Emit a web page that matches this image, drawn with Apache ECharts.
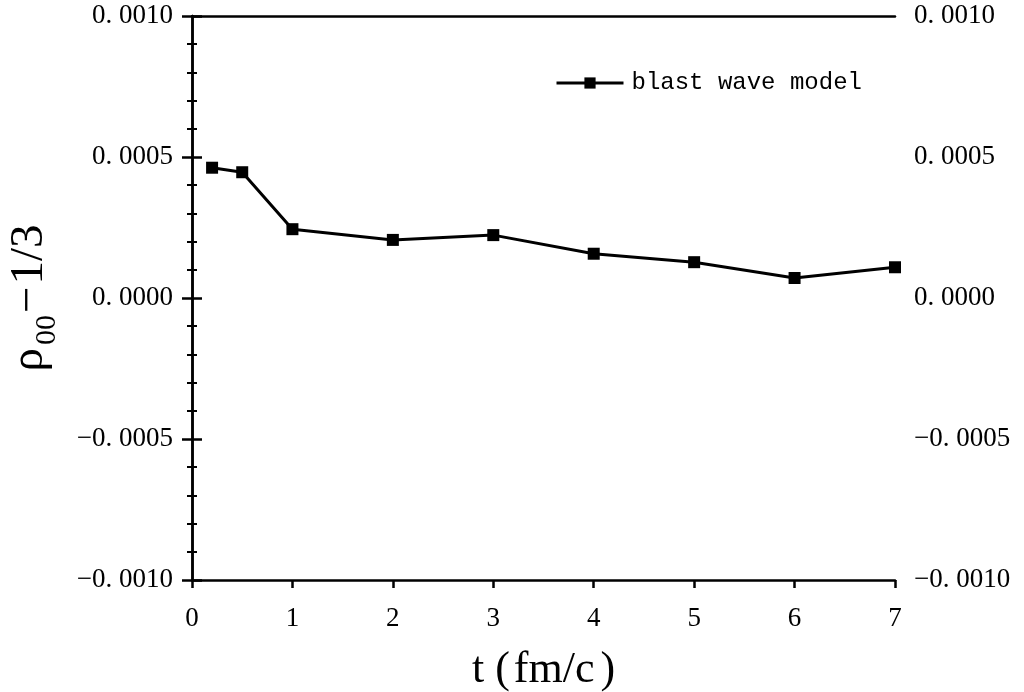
<!DOCTYPE html>
<html>
<head>
<meta charset="utf-8">
<script src="https://cdn.jsdelivr.net/npm/echarts@6/dist/echarts.min.js"></script>
<style>
  html, body { margin: 0; padding: 0; background: #fff; }
  #chart { width: 1024px; height: 692px; }
</style>
</head>
<body>
<div id="chart"></div>
<script>
  // t (fm/c) and rho00 - 1/3
  const tValues = [0.2, 0.5, 1, 2, 3, 4, 5, 6, 7];
  const rhoValues = [0.000462, 0.000446, 0.000244, 0.000206, 0.000223, 0.000157, 0.000127, 0.000071, 0.000109];
  const seriesName = "blast wave model";

  const serif = "Liberation Serif";
  // the original font draws a wide gap after the decimal point
  const fmt = (v) => (v < 0 ? "\u2212" : "") + Math.abs(v).toFixed(4).replace(".", ". ");

  const chart = echarts.init(document.getElementById("chart"));

  const yBase = {
    type: "value",
    min: -0.001,
    max: 0.001,
    interval: 0.0005,
    axisLine: { show: true, lineStyle: { color: "#000", width: 2.5 } },
    axisTick: { show: true, inside: false, length: 10, lineStyle: { color: "#000", width: 2.5 } },
    minorTick: { show: true, splitNumber: 5, length: 5, lineStyle: { color: "#000", width: 2 } },
    splitLine: { show: false },
    axisLabel: { color: "#000", fontFamily: serif, fontSize: 27, formatter: fmt, margin: 19 },
  };

  chart.setOption({
    animation: false,
    grid: { left: 192, right: 129, top: 16, bottom: 112, outerBoundsMode: "none", containLabel: false },
    legend: {
      left: 550,
      top: 66,
      itemWidth: 67,
      itemHeight: 14,
      lineStyle: { color: "#000", width: 3 },
      textStyle: { fontFamily: "Liberation Mono", fontSize: 24, color: "#000", padding: [0, 0, 0, 3] },
      data: [seriesName],
    },
    xAxis: [
      {
        type: "value",
        min: 0,
        max: 7,
        interval: 1,
        name: "{a|t}{p|(}{a|fm/c}{q|)}",
        nameLocation: "middle",
        nameGap: 68,
        nameTextStyle: {
          color: "#000",
          rich: {
            a: { fontFamily: serif, fontSize: 44, color: "#000" },
            p: { fontFamily: serif, fontSize: 44, color: "#000", padding: [0, 4, 0, 11] },
            q: { fontFamily: serif, fontSize: 44, color: "#000", padding: [0, 0, 0, 6] },
          },
        },
        axisLine: { show: true, onZero: false, lineStyle: { color: "#000", width: 2.5 } },
        axisTick: { show: true, inside: false, length: 8, lineStyle: { color: "#000", width: 2.5 } },
        splitLine: { show: false },
        axisLabel: { color: "#000", fontFamily: serif, fontSize: 27, margin: 25 },
      },
      {
        type: "value",
        position: "top",
        min: 0,
        max: 7,
        axisLine: { show: true, onZero: false, lineStyle: { color: "#000", width: 2.5 } },
        axisTick: { show: false },
        axisLabel: { show: false },
        splitLine: { show: false },
      },
    ],
    yAxis: [
      Object.assign({}, yBase, {
        position: "left",
        name: "{r|\u03c1}{s|00}{m|\u2212}{r|1/3}",
        nameLocation: "middle",
        nameGap: 130,
        nameRotate: 90,
        nameTextStyle: {
          color: "#000",
          rich: {
            r: { fontFamily: serif, fontSize: 47, color: "#000" },
            m: { fontFamily: serif, fontSize: 47, color: "#000", padding: [0, 2, 0, 2] },
            s: { fontFamily: serif, fontSize: 30, color: "#000", verticalAlign: "bottom", lineHeight: 64, padding: [0, 0, 0, 3] },
          },
        },
      }),
      Object.assign({}, yBase, { position: "right" }),
    ],
    series: [
      {
        name: seriesName,
        type: "line",
        data: tValues.map((t, i) => [t, rhoValues[i]]),
        symbol: "rect",
        symbolSize: 12,
        lineStyle: { color: "#000", width: 3 },
        itemStyle: { color: "#000" },
        clip: false,
      },
    ],
  });
</script>
</body>
</html>
